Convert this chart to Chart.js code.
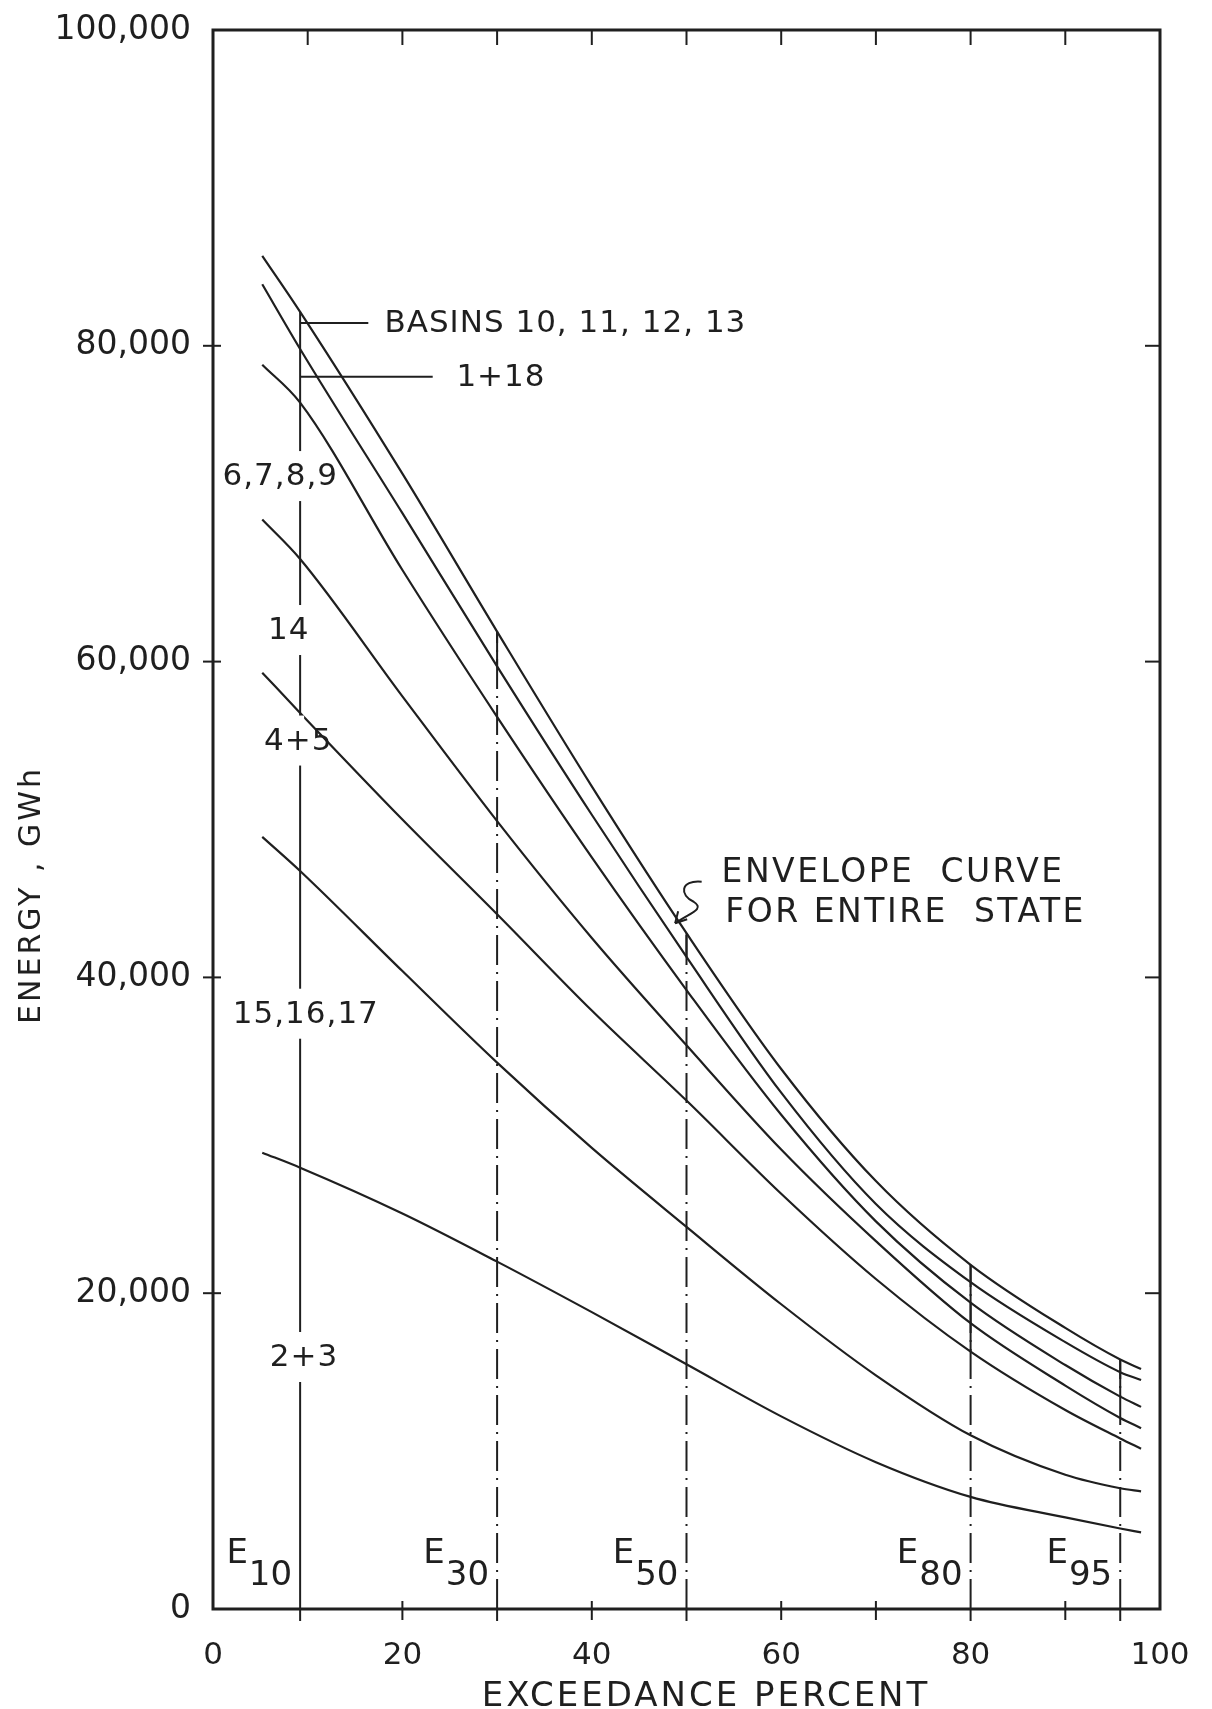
<!DOCTYPE html>
<html>
<head>
<meta charset="utf-8">
<script src="https://cdn.jsdelivr.net/npm/chart.js@4.4.1/dist/chart.umd.min.js"></script>
<style>
  html, body { margin: 0; padding: 0; background: #fff; }
</style>
</head>
<body>
<canvas id="energy" width="1212" height="1709"></canvas>
<script>
// exceedance percent where the curves were read
var exceedance = [5.2, 9.2, 20, 30, 40, 50, 60, 70, 80, 90, 95.8, 98];

// cumulative energy curves, GWh (top = whole state, each lower curve drops one basin group)
var stateTotal  = [85700, 82150, 71900, 61900, 52100, 42800, 34200, 27100, 21800, 17800, 15800, 15200];
var less10to13  = [83900, 79800, 69400, 59700, 50300, 41300, 32700, 25650, 20700, 16900, 15000, 14500];
var less1and18  = [78800, 76400, 65800, 56500, 47600, 39200, 31300, 24550, 19400, 15450, 13450, 12800];
var less6to9    = [69000, 66500, 57800, 49900, 42500, 35700, 29100, 23300, 18100, 14150, 12100, 11450];
var less14      = [59300, 56750, 50000, 44000, 37900, 32200, 26300, 20900, 16300, 12600, 10800, 10150];
var less4and5   = [48900, 46740, 40400, 34600, 29200, 24200, 19300, 14800, 11000, 8500, 7650, 7450];
var basins2and3 = [28900, 27950, 25050, 22000, 18800, 15500, 12200, 9300, 7100, 5800, 5100, 4850];

// E-lines (exceedance markers)
var eLineX      = [9.2, 30, 50, 80, 95.8];
var eLineNames  = ['10', '30', '50', '80', '95'];
var eLineTop    = [82150, 61900, 42800, 21800, 15800];
var eSolidLow   = [0, 59700, 41300, 16300, 13450];

// frame tick marks
var topTicks    = [10, 20, 30, 40, 50, 60, 70, 80, 90];
var bottomTicks = [20, 40, 60, 70, 90];
var sideTicks   = [20000, 40000, 60000, 80000];

var ink = '#1f1f1f';
var FONT = '"DejaVu Sans", sans-serif';

var notes = [
  {text: 'BASINS 10, 11, 12, 13', x: 18.1, y: 81440, align: 'left', lead: 16.4},
  {text: '1+18', x: 25.7, y: 78040, align: 'left', lead: 23.2},
  {text: '6,7,8,9', x: 7.1, y: 71750, align: 'center', gap: true},
  {text: '14', x: 8.0, y: 62000, align: 'center', gap: true},
  {text: '4+5', x: 9.0, y: 55000, align: 'center', gap: true},
  {text: '15,16,17', x: 9.8, y: 37700, align: 'center', gap: true},
  {text: '2+3', x: 9.6, y: 15960, align: 'center', gap: true},
  {text: 'ENVELOPE  CURVE', x: 53.7, y: 46680, align: 'left', size: 33, spacing: 2.5},
  {text: 'FOR ENTIRE  STATE', x: 54.1, y: 44140, align: 'left', size: 33, spacing: 2.5}
];

function pts(ys) {
  return ys.map(function (v, i) { return {x: exceedance[i], y: v}; });
}

var curves = [stateTotal, less10to13, less1and18, less6to9, less14, less4and5, basins2and3];
var datasets = curves.map(function (c) {
  return {
    data: pts(c), borderColor: ink, borderWidth: 2.2, pointRadius: 0,
    cubicInterpolationMode: 'monotone', fill: false
  };
});
eLineX.forEach(function (x, i) {
  datasets.push({
    data: [{x: x, y: 0}, {x: x, y: eLineTop[i]}],
    borderColor: ink, borderWidth: 2, pointRadius: 0,
    borderDash: i === 0 ? [] : [30, 7, 2, 7]
  });
  if (i > 0) {
    datasets.push({
      data: [{x: x, y: eSolidLow[i]}, {x: x, y: eLineTop[i]}],
      borderColor: ink, borderWidth: 2, pointRadius: 0
    });
  }
});

function seg(ctx, x1, y1, x2, y2) {
  ctx.beginPath(); ctx.moveTo(x1, y1); ctx.lineTo(x2, y2); ctx.stroke();
}

var drawing = {
  id: 'drawing',
  afterDatasetsDraw: function (chart) {
    var ctx = chart.ctx, a = chart.chartArea, sx = chart.scales.x, sy = chart.scales.y;
    ctx.save();
    ctx.strokeStyle = ink; ctx.fillStyle = ink;

    // frame and ticks
    ctx.lineWidth = 3;
    ctx.strokeRect(a.left, a.top, a.right - a.left, a.bottom - a.top);
    ctx.lineWidth = 2;
    topTicks.forEach(function (v) { var p = sx.getPixelForValue(v); seg(ctx, p, a.top, p, a.top + 15); });
    bottomTicks.forEach(function (v) { var p = sx.getPixelForValue(v); seg(ctx, p, a.bottom - 8, p, a.bottom + 11); });
    eLineX.forEach(function (v) { var p = sx.getPixelForValue(v); seg(ctx, p, a.bottom, p, a.bottom + 12); });
    sideTicks.forEach(function (v) {
      var p = sy.getPixelForValue(v);
      seg(ctx, a.left - 10, p, a.left + 8, p);
      seg(ctx, a.right - 15, p, a.right, p);
    });

    // E labels
    ctx.font = '34px ' + FONT;
    ctx.textBaseline = 'alphabetic'; ctx.textAlign = 'right';
    eLineX.forEach(function (v, i) {
      var p = sx.getPixelForValue(v) - 8;
      ctx.fillText(eLineNames[i], p, a.bottom - 24);
      var w = ctx.measureText(eLineNames[i]).width;
      ctx.fillText('E', p - w - 1, a.bottom - 46);
    });

    // basin notes
    var e10 = sx.getPixelForValue(eLineX[0]);
    ctx.textBaseline = 'middle';
    notes.forEach(function (n) {
      var x = sx.getPixelForValue(n.x), y = sy.getPixelForValue(n.y);
      ctx.font = (n.size || 31) + 'px ' + FONT;
      ctx.letterSpacing = (n.spacing || 1) + 'px';
      if (n.gap) {
        ctx.fillStyle = '#fff';
        ctx.fillRect(e10 - 4, y - 25, 8, 50);
        ctx.fillStyle = ink;
      }
      if (n.lead) seg(ctx, e10, y, sx.getPixelForValue(n.lead), y);
      ctx.textAlign = n.align;
      ctx.fillText(n.text, x, y + 1);
    });

    // envelope arrow
    var s = {x: sx.getPixelForValue(51.6), y: sy.getPixelForValue(46060)};
    var t = {x: sx.getPixelForValue(48.8), y: sy.getPixelForValue(43430)};
    ctx.lineWidth = 2;
    ctx.beginPath();
    ctx.moveTo(s.x, s.y);
    ctx.bezierCurveTo(s.x - 22, s.y - 2, s.x - 22, s.y + 14, s.x - 8, s.y + 20);
    ctx.bezierCurveTo(s.x + 4, s.y + 28, t.x + 14, t.y - 10, t.x, t.y);
    ctx.stroke();
    seg(ctx, t.x, t.y, t.x + 3, t.y - 12);
    seg(ctx, t.x, t.y, t.x + 12, t.y - 4);

    // axis titles
    ctx.letterSpacing = '3px';
    ctx.font = '34px ' + FONT;
    ctx.textAlign = 'center'; ctx.textBaseline = 'alphabetic';
    ctx.fillText('EXCEEDANCE PERCENT', 706, a.bottom + 97);
    ctx.translate(40, 895);
    ctx.rotate(-Math.PI / 2);
    ctx.font = '30px ' + FONT;
    ctx.fillText('ENERGY , GWh', 0, 0);
    ctx.restore();
  }
};

new Chart(document.getElementById('energy'), {
  type: 'line',
  data: {datasets: datasets},
  plugins: [drawing],
  options: {
    responsive: false,
    animation: false,
    layout: {autoPadding: false, padding: {top: 30, right: 52, left: 0, bottom: 0}},
    plugins: {legend: {display: false}, tooltip: {enabled: false}},
    scales: {
      x: {
        type: 'linear', min: 0, max: 100,
        grid: {display: false, drawTicks: false},
        border: {display: false},
        ticks: {stepSize: 20, padding: 28, color: ink, font: {family: 'DejaVu Sans', size: 31}},
        afterFit: function (s) { s.height = 100; s.paddingLeft = 0; s.paddingRight = 0; }
      },
      y: {
        min: 0, max: 100000,
        grid: {display: false, drawTicks: false},
        border: {display: false},
        ticks: {
          stepSize: 20000, padding: 22, color: ink, font: {family: 'DejaVu Sans', size: 33},
          callback: function (v) { return v.toLocaleString('en-US'); }
        },
        afterFit: function (s) { s.width = 213; s.paddingTop = 0; s.paddingBottom = 0; }
      }
    }
  }
});
</script>
</body>
</html>
